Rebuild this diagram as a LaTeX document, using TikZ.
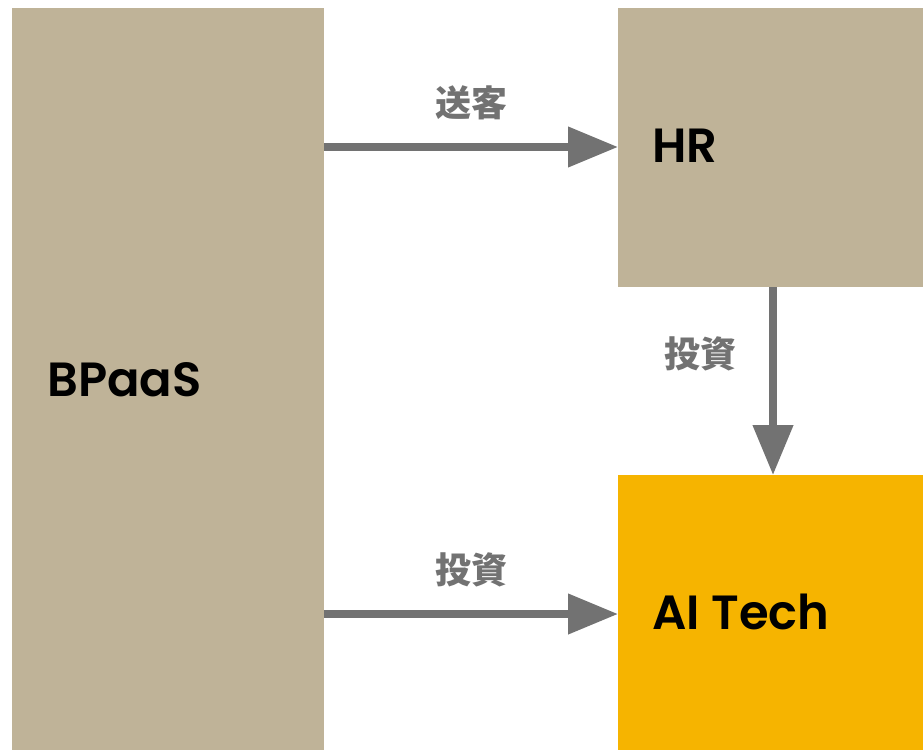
\documentclass[tikz,border=0pt]{standalone}
\usepackage{fontspec}
\setmainfont{Poppins SemiBold}
\newfontfamily\jpfont{Noto Sans CJK JP}
\usetikzlibrary{arrows.meta}
\definecolor{sand}{HTML}{BFB398}
\definecolor{amber}{HTML}{F6B400}
\definecolor{flowgray}{HTML}{727272}
\tikzset{
  blocktext/.style={anchor=west, inner sep=0pt, font=\fontsize{48}{52}\selectfont, text=black},
  flow/.style={draw=flowgray, line width=7.5pt, -{Triangle[length=50pt, width=39pt]}},
  flowlabel/.style={font=\jpfont\bfseries\fontsize{36}{38}\selectfont, text=flowgray, inner sep=0pt}
}
\begin{document}
\begin{tikzpicture}[x=1pt, y=-1pt]
  \useasboundingbox (0,0) rectangle (923,750);
  % boxes
  \fill[sand] (12,8) rectangle (324,750);
  \fill[sand] (618,8) rectangle (923,287);
  \fill[amber] (618,475) rectangle (923,750);
  \node[blocktext] (bpaas) at (47,380) {BPaaS};
  \node[blocktext] (hr) at (652,146) {HR};
  \node[blocktext] (ai) at (652,612) {AI Tech};
  % connector end points on the box edges
  \coordinate (bpTop) at (324,147);
  \coordinate (hrIn) at (618,147);
  \coordinate (bpBot) at (324,614);
  \coordinate (aiIn) at (618,614);
  \coordinate (hrOut) at (773,287);
  \coordinate (aiTop) at (773,475);
  \draw[flow] (bpTop) -- (hrIn);
  \draw[flow] (bpBot) -- (aiIn);
  \draw[flow] (hrOut) -- (aiTop);
  \node[flowlabel] (l1) at (471,103) {送客};
  \node[flowlabel] (l2) at (471,570) {投資};
  \node[flowlabel] (l3) at (700,354) {投資};
\end{tikzpicture}
\end{document}
